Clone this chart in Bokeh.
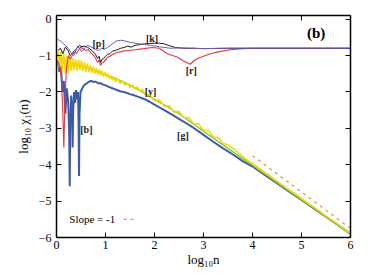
from bokeh.plotting import figure
from bokeh.models import LinearAxis, Range1d, FixedTicker
from bokeh.core.properties import value
from bokeh.embed import file_html
from bokeh.resources import INLINE

FONT = "Liberation Serif"

# ---- data (log10 n, log10 chi1(n)) ----
p_x = [0.02, 0.08, 0.13, 0.18, 0.24, 0.29, 0.35, 0.39, 0.43, 0.47, 0.51, 0.56, 0.63, 0.7, 0.76, 0.8,
       0.86, 0.92, 0.98, 1.04, 1.1, 1.16, 1.22, 1.31, 1.4, 1.51, 1.65, 1.8, 1.92, 2.1, 2.33, 2.5, 2.73,
       3.0, 3.5, 4.0, 4.5, 5.0, 5.5, 6.0]
p_y = [-0.55, -0.6, -0.66, -0.72, -0.8, -0.91, -1.0, -0.88, -0.75, -0.8, -0.9, -0.82, -0.72, -0.76,
       -0.8, -0.84, -0.86, -0.8, -0.83, -0.78, -0.72, -0.66, -0.6, -0.58, -0.6, -0.64, -0.67, -0.7,
       -0.72, -0.76, -0.8, -0.79, -0.8, -0.81, -0.8, -0.8, -0.8, -0.8, -0.8, -0.8]

k_x = [0.03, 0.08, 0.13, 0.18, 0.23, 0.28, 0.33, 0.38, 0.42, 0.47, 0.52, 0.58, 0.63, 0.68, 0.72, 0.76,
       0.8, 0.84, 0.87, 0.9, 0.93, 0.96, 1.0, 1.04, 1.09, 1.14, 1.2, 1.26, 1.31, 1.38, 1.45, 1.52, 1.6,
       1.7, 1.8, 1.9, 2.0, 2.1, 2.2, 2.3, 2.43, 2.6, 2.8, 3.0, 3.5, 4.0, 4.5, 5.0, 5.5, 6.0]
k_y = [-0.86, -0.8, -0.95, -0.77, -0.85, -1.0, -0.92, -0.85, -0.8, -0.72, -0.76, -0.74, -0.77, -0.82,
       -0.86, -0.91, -0.98, -1.08, -1.02, -1.19, -1.1, -1.08, -1.02, -0.97, -0.95, -0.88, -0.86, -0.83,
       -0.8, -0.78, -0.74, -0.77, -0.72, -0.7, -0.68, -0.67, -0.66, -0.66, -0.68, -0.73, -0.78, -0.8,
       -0.8, -0.81, -0.8, -0.8, -0.8, -0.8, -0.8, -0.8]

r_x = [0.03, 0.07, 0.1, 0.13, 0.15, 0.17, 0.2, 0.24, 0.28, 0.32, 0.36, 0.41, 0.45, 0.49, 0.55, 0.6,
       0.65, 0.7, 0.76, 0.8, 0.84, 0.87, 0.9, 0.93, 0.96, 1.0, 1.04, 1.09, 1.14, 1.2, 1.24, 1.3, 1.35,
       1.45, 1.6, 1.78, 1.95, 2.1, 2.26, 2.46, 2.63, 2.73, 2.8, 2.87, 3.0, 3.14, 3.3, 3.55, 3.8, 4.0,
       4.5, 5.0, 5.5, 6.0]
r_y = [-1.18, -1.3, -1.6, -2.6, -3.53, -2.4, -1.4, -1.0, -1.1, -1.0, -0.9, -0.94, -0.85, -0.77, -0.82,
       -0.86, -0.84, -0.92, -1.0, -1.08, -1.19, -1.12, -1.27, -1.2, -1.19, -1.12, -1.05, -1.02, -0.97,
       -0.94, -0.91, -0.9, -0.88, -0.86, -0.84, -0.81, -0.78, -0.8, -0.95, -1.04, -1.18, -1.24, -1.15,
       -1.09, -1.02, -0.95, -0.9, -0.84, -0.81, -0.8, -0.8, -0.8, -0.8, -0.8]

b_x = [0.03, 0.06, 0.09, 0.12, 0.15, 0.18, 0.21, 0.24,
       0.26, 0.27, 0.28, 0.3, 0.32, 0.33, 0.34, 0.36, 0.38, 0.4, 0.42, 0.44, 0.45, 0.46, 0.47, 0.49,
       0.52, 0.55, 0.58, 0.62, 0.66, 0.7, 0.75, 0.8, 0.85, 0.9, 0.95, 1.0,
       1.1, 1.2, 1.3, 1.4, 1.5, 1.6, 1.7, 1.8, 1.9, 2.0,
       2.2, 2.4, 2.6, 2.8, 3.0, 3.2, 3.4, 3.6, 3.8, 4.0,
       4.25, 4.5, 4.75, 5.0, 5.25, 5.5, 5.75, 6.0]
b_y = [-1.13, -1.45, -1.3, -2.0, -1.7, -2.6, -1.9, -2.3,
       -3.2, -4.59, -3.0, -2.1, -2.6, -3.53, -2.5, -2.0, -2.3, -1.95, -2.2, -2.0, -2.8, -4.31, -2.6, -2.0,
       -1.92, -1.84, -1.8, -1.76, -1.72, -1.7, -1.72, -1.72, -1.76, -1.76, -1.8, -1.82,
       -1.88, -1.93, -1.98, -2.01, -2.06, -2.1, -2.15, -2.2, -2.27, -2.35,
       -2.5, -2.66, -2.82, -2.99, -3.18, -3.37, -3.55, -3.72, -3.9, -4.05,
       -4.28, -4.51, -4.74, -4.97, -5.2, -5.43, -5.66, -5.9]

g_x = [0.03, 0.08, 0.12, 0.2, 0.3, 0.4, 0.49, 0.6, 0.7, 0.8, 0.9, 1.0, 1.1, 1.2, 1.37, 1.5, 1.7, 2.0,
       2.5, 3.0, 3.5, 4.0, 4.5, 5.0, 5.5, 6.0]
g_y = [-1.25, -1.0, -1.09, -1.15, -1.2, -1.24, -1.27, -1.32, -1.37, -1.42, -1.46, -1.52, -1.58, -1.63,
       -1.73, -1.82, -1.96, -2.2, -2.6, -3.08, -3.55, -4.02, -4.49, -4.96, -5.43, -5.9]

y_x = [0.03, 0.06, 0.09, 0.12, 0.15, 0.18, 0.21, 0.24, 0.27, 0.3, 0.33, 0.36, 0.39, 0.42, 0.45, 0.48,
       0.51, 0.54, 0.57, 0.6, 0.63, 0.66, 0.69, 0.72, 0.75, 0.78, 0.81, 0.84, 0.87, 0.9, 0.93, 0.96,
       0.99, 1.02, 1.05, 1.08, 1.11, 1.14, 1.17, 1.2, 1.25, 1.3, 1.35, 1.4, 1.45, 1.5, 1.55, 1.6, 1.65,
       1.7, 1.75, 1.8, 1.9, 2.0, 2.1, 2.2, 2.3, 2.4, 2.5, 2.6, 2.7, 2.8, 2.9, 3.0, 3.1, 3.2, 3.3, 3.4,
       3.5, 3.7, 3.9, 4.1, 4.3, 4.5, 4.7, 4.9, 5.1, 5.3, 5.5, 5.7, 5.9, 6.0]
y_y = [-0.9, -1.35, -0.88, -1.45, -0.95, -1.5, -1.0, -1.48, -1.02, -1.42, -1.08, -1.4, -1.1, -1.42,
       -1.12, -1.4, -1.14, -1.42, -1.18, -1.45, -1.22, -1.45, -1.26, -1.48, -1.3, -1.5, -1.34, -1.52,
       -1.38, -1.55, -1.42, -1.58, -1.46, -1.6, -1.5, -1.64, -1.54, -1.68, -1.58, -1.72, -1.64, -1.77,
       -1.7, -1.82, -1.75, -1.88, -1.8, -1.93, -1.86, -1.98, -1.92, -2.07, -2.08, -2.24, -2.22, -2.4,
       -2.38, -2.56, -2.53, -2.71, -2.7, -2.88, -2.87, -3.06, -3.06, -3.24, -3.25, -3.42, -3.45, -3.66,
       -3.88, -4.06, -4.26, -4.45, -4.65, -4.83, -5.03, -5.21, -5.41, -5.59, -5.8, -5.87]

slope_x = [4.0, 6.0]
slope_y = [-3.75, -5.75]

x_ticks = [0, 1, 2, 3, 4, 5, 6]
y_ticks = [-6, -5, -4, -3, -2, -1, 0]

# curve tags: (text, x, y)
tag_text = ["[p]", "[k]", "[r]", "[y]", "[b]", "[g]"]
tag_x = [0.86, 1.95, 2.75, 1.92, 0.61, 2.58]
tag_y = [-0.67, -0.52, -1.42, -2.0, -3.03, -3.2]

p = figure(width=366, height=272, output_backend="svg", toolbar_location=None,
           x_range=Range1d(0, 6), y_range=Range1d(-6.0, 0.1),
           min_border_left=56, min_border_right=16, min_border_top=15, min_border_bottom=35,
           background_fill_color="white", border_fill_color="white")
p.outline_line_color = None
p.grid.visible = False


def style_axis(ax, labels=True):
    ax.axis_line_color = "black"
    ax.axis_line_width = 1.5
    ax.major_tick_in = 5
    ax.major_tick_out = 0
    ax.major_tick_line_color = "black"
    ax.minor_tick_line_color = None
    ax.major_label_text_font = FONT
    ax.major_label_text_font_size = "12px" if labels else "1px"
    ax.major_label_text_color = "black" if labels else None
    ax.axis_label_text_font = FONT
    ax.axis_label_text_font_style = "normal"
    ax.axis_label_text_font_size = "13px"
    ax.axis_label_text_color = "black"


xax = p.xaxis[0]
yax = p.yaxis[0]
xax.ticker = FixedTicker(ticks=x_ticks)
yax.ticker = FixedTicker(ticks=y_ticks)
style_axis(xax)
style_axis(yax)
xax.axis_label = "log₁₀n"
yax.axis_label = "log₁₀ χ₁(n)"
xax.major_label_standoff = 3
xax.axis_label_standoff = 0
yax.major_label_standoff = 5
yax.axis_label_standoff = 5

top = LinearAxis(ticker=FixedTicker(ticks=x_ticks), major_label_standoff=0)
right = LinearAxis(ticker=FixedTicker(ticks=y_ticks), major_label_standoff=0)
style_axis(top, labels=False)
style_axis(right, labels=False)
p.add_layout(top, "above")
p.add_layout(right, "right")

p.line(b_x, b_y, line_color="#3d5aa6", line_width=2.0)
p.line(g_x, g_y, line_color="#7cc442", line_width=1.4)
p.line(y_x, y_y, line_color="#f4d600", line_width=1.5)
p.line(r_x, r_y, line_color="#e8363f", line_width=1.1)
p.line(k_x, k_y, line_color="#1a1a1a", line_width=1.0)
p.line(p_x, p_y, line_color="#6f5bb5", line_width=1.0)
p.line(slope_x, slope_y, line_color="#e8875a", line_width=1.2, line_dash="3 4")

p.text(tag_x, tag_y, text=tag_text, text_font=value(FONT), text_font_size="10px",
       text_font_style="bold", text_align="center", text_baseline="middle", text_color="#222222")
p.text([5.3], [-0.39], text=["(b)"], text_font=value(FONT), text_font_size="15px",
       text_font_style="bold", text_align="center", text_baseline="middle", text_color="black")
p.text([0.73], [-5.5], text=["Slope = -1"], text_font=value(FONT), text_font_size="11px",
       text_align="center", text_baseline="middle", text_color="black")
p.line([1.37, 1.58], [-5.5, -5.5], line_color="#e8875a", line_width=1.2, line_dash="3 4")

open("out.html", "w").write(file_html(p, INLINE))
